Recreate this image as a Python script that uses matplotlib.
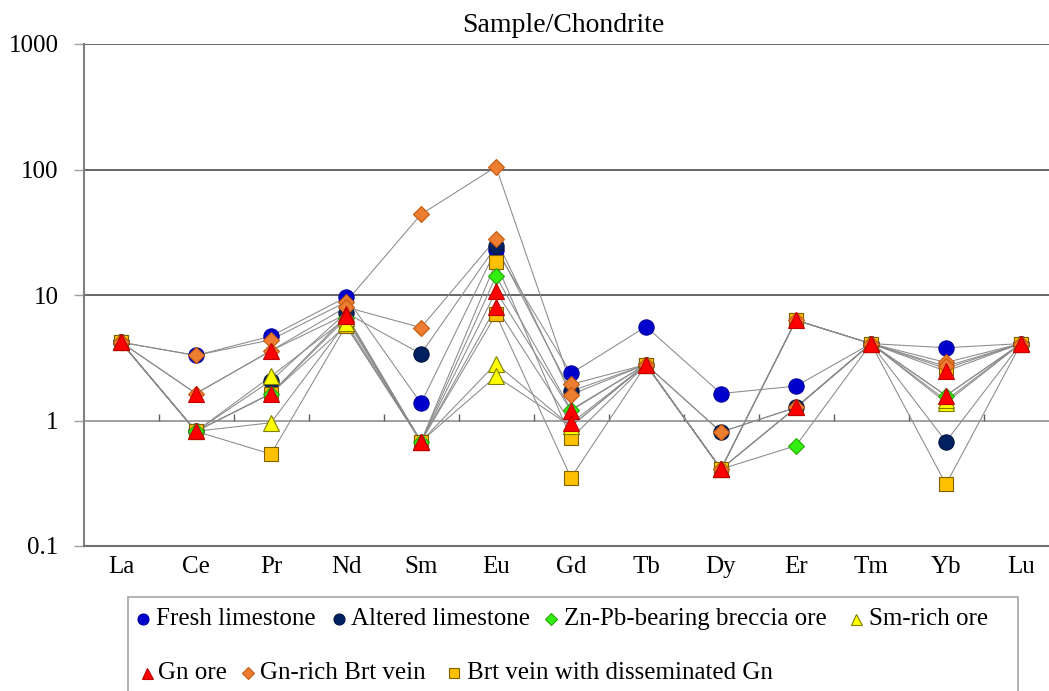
import matplotlib
matplotlib.use("Agg")
import matplotlib.pyplot as plt
from matplotlib.lines import Line2D
from matplotlib.patches import Rectangle

plt.rcParams["font.family"] = ["Liberation Serif", "DejaVu Serif"]

# REE pattern, chondrite-normalised values
elements = ["La", "Ce", "Pr", "Nd", "Sm", "Eu", "Gd", "Tb", "Dy", "Er", "Tm", "Yb", "Lu"]

fresh_1 = [4.2, 3.3, 4.7, 9.6, 1.37, 23.0, 2.37, 5.6, 1.64, 1.88, 4.1, 3.8, 4.1]
altered_1 = [4.2, 0.82, 2.08, 7.2, 3.4, 24.5, 1.71, 2.79, 0.81, 1.27, 4.1, 0.68, 4.1]
breccia_1 = [4.2, 0.82, 1.64, 6.5, 0.68, 14.1, 1.22, 2.79, 0.41, 0.63, 4.1, 1.58, 4.1]
smrich_1 = [4.2, 0.82, 2.25, 6.5, 0.68, 2.84, 0.9, 2.79, 0.41, 1.27, 4.1, 1.39, 4.1]
smrich_2 = [4.2, 0.82, 0.96, 6.0, 0.68, 2.25, 0.9, 2.79, 0.41, 1.27, 4.1, 1.45, 4.1]
gn_ore_1 = [4.2, 1.64, 3.6, 7.0, 0.68, 10.7, 1.2, 2.79, 0.41, 6.3, 4.1, 2.47, 4.1]
gn_ore_2 = [4.2, 0.82, 1.64, 6.8, 0.68, 8.0, 0.95, 2.79, 0.41, 1.27, 4.1, 1.58, 4.1]
gn_brt_1 = [4.2, 3.3, 4.4, 8.8, 43.9, 105.0, 1.94, 2.79, 0.81, 1.27, 4.1, 2.9, 4.1]
gn_brt_2 = [4.2, 1.64, 3.6, 8.0, 5.5, 28.0, 1.61, 2.79, 0.41, 6.3, 4.1, 2.7, 4.1]
brt_gn_1 = [4.2, 0.82, 0.54, 5.7, 0.68, 18.2, 0.72, 2.79, 0.41, 6.3, 4.1, 0.31, 4.1]
brt_gn_2 = [4.2, 0.82, 1.64, 5.7, 0.68, 7.0, 0.35, 2.79, 0.41, 6.3, 4.1, 2.6, 4.1]

groups = [
    ("Fresh limestone", [fresh_1], "o", "#0000CC", "#0000A0", 11, 3),
    ("Altered limestone", [altered_1], "o", "#002060", "#001540", 11, 3),
    ("Zn-Pb-bearing breccia ore", [breccia_1], "D", "#33EE11", "#22AA00", 8, 5),
    ("Sm-rich ore", [smrich_1, smrich_2], "^", "#FFFF00", "#7F7F00", 11, 6),
    ("Gn ore", [gn_ore_1, gn_ore_2], "^", "#FF0000", "#C00000", 11, 7),
    ("Gn-rich Brt vein", [gn_brt_1, gn_brt_2], "D", "#ED7D31", "#C55A11", 8, 6),
    ("Brt vein with disseminated Gn", [brt_gn_1, brt_gn_2], "s", "#FFC000", "#7F6000", 10.5, 4),
]

W, H = 1049, 691
fig = plt.figure(figsize=(W / 100, H / 100), dpi=100)
ax = fig.add_axes([83.5 / W, 145 / H, 975 / W, 502 / H])

x = list(range(len(elements)))
for name, samples, mk, fc, ec, ms, z in groups:
    for vals in samples:
        ax.plot(x, vals, "-", color="#8A8A8A", lw=0.75, zorder=2)
for name, samples, mk, fc, ec, ms, z in groups:
    for vals in samples:
        ax.plot(x, vals, linestyle="none", marker=mk, ms=ms, mfc=fc, mec=ec,
                mew=0.8, zorder=z)

ax.set_yscale("log")
ax.set_ylim(0.1, 1000)
ax.set_xlim(-0.5, len(elements) - 0.5)
ax.set_yticks([0.1, 1, 10, 100, 1000])
ax.set_yticklabels(["0.1", "1", "10", "100", "1000"])
ax.minorticks_off()
ax.set_xticks(x)
ax.set_xticklabels(elements)
ax.tick_params(axis="x", length=0, pad=7, labelsize=18)
ax.tick_params(axis="y", length=7, width=1, color="#A0A0A0", pad=11, labelsize=18)

for v in [10, 100, 1000]:
    ax.axhline(v, color="#5A5A5A", lw=1.3, zorder=1)
# category axis crosses at 1
ax.axhline(1, color="#909090", lw=1.2, zorder=1)
ax.vlines([i + 0.5 for i in range(len(elements))], 1, 1.117, color="#606060", lw=1, zorder=1)

for side in ["top", "right"]:
    ax.spines[side].set_visible(False)
ax.spines["left"].set_color("#808080")
ax.spines["left"].set_linewidth(1.5)
ax.spines["bottom"].set_color("#707070")
ax.spines["bottom"].set_linewidth(1.5)

fig.text(563 / W, 1 - 25 / H, "Sample/Chondrite", ha="center", va="center", fontsize=20)

# legend box, drawn by hand to keep the two uneven rows
fig.add_artist(Rectangle((128 / W, -0.02), 890 / W, (691 - 597) / H + 0.02,
                         transform=fig.transFigure, fc="white", ec="#A6A6A6", lw=1.2))
legend_pos = [(143, 619, 156), (339, 619, 351), (551, 619, 564), (856, 619, 869),
              (147, 673, 158), (248, 673, 260), (454, 673, 467)]
for (name, samples, mk, fc, ec, ms, z), (mx, my, tx) in zip(groups, legend_pos):
    fig.add_artist(Line2D([mx / W], [1 - my / H], marker=mk, ms=ms * 0.72, mfc=fc, mec=ec,
                          mew=0.8, linestyle="none", transform=fig.transFigure))
    fig.text(tx / W, 1 - my / H, name, ha="left", va="center", fontsize=18)

fig.savefig("out.png", dpi=100)
